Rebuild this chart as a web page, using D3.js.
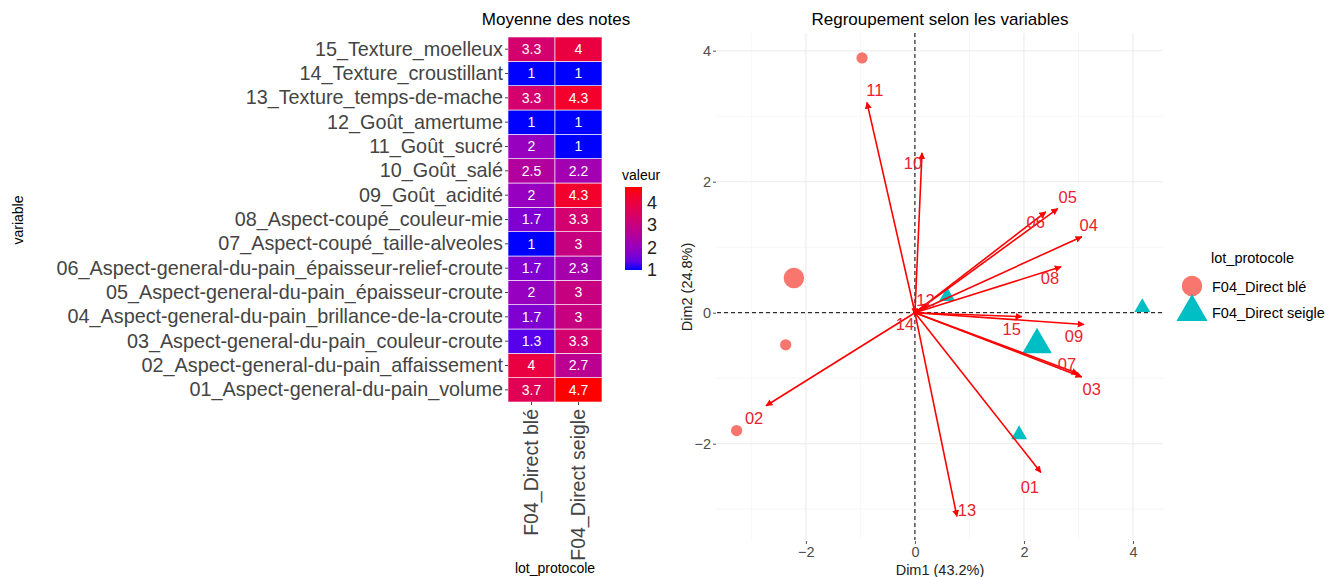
<!DOCTYPE html>
<html>
<head>
<meta charset="utf-8">
<script src="https://cdn.jsdelivr.net/npm/d3@7"></script>
<style>
  body { margin: 0; background: #fff; }
  svg { font-family: 'Liberation Sans', Arial, sans-serif; }
</style>
</head>
<body>
<div id="graph"></div>
<script>
// ---- heatmap data ----
const lots = ['F04_Direct blé', 'F04_Direct seigle'];
const variables = [
  '01_Aspect-general-du-pain_volume',
  '02_Aspect-general-du-pain_affaissement',
  '03_Aspect-general-du-pain_couleur-croute',
  '04_Aspect-general-du-pain_brillance-de-la-croute',
  '05_Aspect-general-du-pain_épaisseur-croute',
  '06_Aspect-general-du-pain_épaisseur-relief-croute',
  '07_Aspect-coupé_taille-alveoles',
  '08_Aspect-coupé_couleur-mie',
  '09_Goût_acidité',
  '10_Goût_salé',
  '11_Goût_sucré',
  '12_Goût_amertume',
  '13_Texture_temps-de-mache',
  '14_Texture_croustillant',
  '15_Texture_moelleux'
];
const valBle    = [3.7, 4, 1.3, 1.7, 2, 1.7, 1, 1.7, 2, 2.5, 2, 1, 3.3, 1, 3.3];
const valSeigle = [4.7, 2.7, 3.3, 3, 3, 2.3, 3, 3.3, 4.3, 2.2, 1, 1, 4.3, 1, 4];
const legendTicks = [1, 2, 3, 4];

// ---- PCA data ----
const varCodes = ['01','02','03','04','05','06','07','08','09','10','11','12','13','14','15'];
const varDim1 = [2.31, -2.73, 3.06, 3.06, 2.62, 2.40, 2.99, 2.68, 3.10, 0.13, -0.88, 0.25, 0.77, 0.0, 1.96];
const varDim2 = [-2.44, -1.42, -0.98, 1.16, 1.59, 1.54, -0.93, 0.70, -0.18, 2.44, 3.21, 0.14, -3.11, -0.03, -0.06];
const indLot  = ['F04_Direct blé', 'F04_Direct blé', 'F04_Direct blé', 'F04_Direct seigle', 'F04_Direct seigle', 'F04_Direct seigle'];
const indDim1 = [-0.97, -2.37, -3.27, 4.17, 1.91, 0.59];
const indDim2 = [3.89, -0.49, -1.80, 0.08, -1.86, 0.25];
const meanDim1 = [-2.22, 2.24];
const meanDim2 = [0.53, -0.49];
const pcaTicks = [-2, 0, 2, 4];
const pcaMinor = [-3, -1, 1, 3];

// label nudges for arrow labels (pixels)
const labelNudge = {
  '01': [-11, 15], '02': [-12, 13], '03': [10, 12], '04': [7, -11], '05': [10, -11],
  '06': [-10, 10], '07': [-11, -9], '08': [-11, 11], '09': [-10, 12], '10': [-9, 10],
  '11': [8, -12], '12': [-3, -3], '13': [10, -6], '14': [-10, 10], '15': [-10, 13]
};

const w = 1325, h = 577;
const svg = d3.select('#graph').append('svg')
  .attr('width', w).attr('height', h);
svg.append('rect').attr('width', w).attr('height', h).attr('fill', '#fff');

// ================= heatmap =================
const cells = [];
variables.forEach((v, i) => {
  cells.push({ variable: v, lot: lots[0], value: valBle[i] });
  cells.push({ variable: v, lot: lots[1], value: valSeigle[i] });
});

const xBand = d3.scaleBand().domain(lots).range([508, 602]);
const yBand = d3.scaleBand().domain(variables).range([402, 37]);
const color = d3.scaleLinear()
  .domain([1, 4.7])
  .range(['#0000ff', '#ff0000'])
  .interpolate(d3.interpolateLab);

svg.append('g').selectAll('rect')
  .data(cells).enter().append('rect')
  .attr('x', d => xBand(d.lot))
  .attr('y', d => yBand(d.variable))
  .attr('width', xBand.bandwidth())
  .attr('height', yBand.bandwidth())
  .attr('fill', d => color(d.value))
  .attr('stroke', '#fff')
  .attr('stroke-width', 0.6);

svg.append('g').selectAll('text')
  .data(cells).enter().append('text')
  .attr('x', d => xBand(d.lot) + xBand.bandwidth() / 2)
  .attr('y', d => yBand(d.variable) + yBand.bandwidth() / 2)
  .attr('dy', '0.35em')
  .attr('text-anchor', 'middle')
  .style('font-size', '14px')
  .style('fill', '#fff')
  .text(d => d.value);

const hmY = svg.append('g')
  .attr('transform', 'translate(508,0)')
  .call(d3.axisLeft(yBand).tickSize(3).tickPadding(2));
hmY.select('.domain').remove();
hmY.selectAll('line').attr('stroke', '#444');
hmY.selectAll('text').style('font-size', '19.8px').style('fill', '#444')
  .style('font-family', "'Liberation Sans', Arial, sans-serif");

const hmX = svg.append('g')
  .attr('transform', 'translate(0,402)')
  .call(d3.axisBottom(xBand).tickSize(3).tickPadding(2));
hmX.select('.domain').remove();
hmX.selectAll('line').attr('stroke', '#444');
hmX.selectAll('text')
  .style('font-size', '19.5px').style('fill', '#444')
  .style('font-family', "'Liberation Sans', Arial, sans-serif")
  .attr('transform', 'rotate(-90)')
  .attr('text-anchor', 'end')
  .attr('x', -7).attr('y', 0).attr('dy', '0.35em');

svg.append('text')
  .attr('x', 556).attr('y', 25)
  .attr('text-anchor', 'middle')
  .style('font-size', '17px')
  .text('Moyenne des notes');

svg.append('text')
  .attr('x', 555).attr('y', 573)
  .attr('text-anchor', 'middle')
  .style('font-size', '14px')
  .text('lot_protocole');

svg.append('text')
  .attr('transform', 'translate(23,220) rotate(-90)')
  .attr('text-anchor', 'middle')
  .style('font-size', '14px')
  .text('variable');

// colour bar legend
const legScale = d3.scaleLinear().domain([1, 4.7]).range([270, 187]);
const defs = svg.append('defs');
const grad = defs.append('linearGradient')
  .attr('id', 'valgrad')
  .attr('x1', 0).attr('y1', 1).attr('x2', 0).attr('y2', 0);
d3.range(0, 1.01, 0.1).forEach(t => {
  grad.append('stop')
    .attr('offset', t)
    .attr('stop-color', color(1 + t * 3.7));
});
svg.append('rect')
  .attr('x', 625).attr('y', legScale(4.7))
  .attr('width', 17).attr('height', legScale(1) - legScale(4.7))
  .attr('fill', 'url(#valgrad)');
svg.append('g').selectAll('text')
  .data(legendTicks).enter().append('text')
  .attr('x', 647).attr('y', d => legScale(d))
  .attr('dy', '0.35em')
  .style('font-size', '18px')
  .style('fill', '#222')
  .text(d => d);
svg.append('text')
  .attr('x', 622).attr('y', 180)
  .style('font-size', '14px')
  .text('valeur');

// ================= PCA biplot =================
const xScale = d3.scaleLinear().domain([-3.63, 4.55]).range([717, 1163]);
const yScale = d3.scaleLinear().domain([-3.47, 4.27]).range([540, 33]);

const grid = svg.append('g');
grid.selectAll('.vmin').data(pcaMinor).enter().append('line')
  .attr('x1', d => xScale(d)).attr('x2', d => xScale(d))
  .attr('y1', 33).attr('y2', 540)
  .attr('stroke', '#f2f2f2').attr('stroke-width', 0.6);
grid.selectAll('.hmin').data(pcaMinor).enter().append('line')
  .attr('y1', d => yScale(d)).attr('y2', d => yScale(d))
  .attr('x1', 717).attr('x2', 1163)
  .attr('stroke', '#f2f2f2').attr('stroke-width', 0.6);
grid.selectAll('.vmaj').data(pcaTicks).enter().append('line')
  .attr('x1', d => xScale(d)).attr('x2', d => xScale(d))
  .attr('y1', 33).attr('y2', 540)
  .attr('stroke', '#ebebeb').attr('stroke-width', 1.1);
grid.selectAll('.hmaj').data(pcaTicks).enter().append('line')
  .attr('y1', d => yScale(d)).attr('y2', d => yScale(d))
  .attr('x1', 717).attr('x2', 1163)
  .attr('stroke', '#ebebeb').attr('stroke-width', 1.1);

const pX = svg.append('g')
  .attr('transform', 'translate(0,541)')
  .call(d3.axisBottom(xScale).tickValues(pcaTicks).tickSize(3).tickPadding(3));
const pY = svg.append('g')
  .attr('transform', 'translate(716,0)')
  .call(d3.axisLeft(yScale).tickValues(pcaTicks).tickSize(3).tickPadding(2));
[pX, pY].forEach(a => {
  a.select('.domain').remove();
  a.selectAll('line').attr('stroke', '#555');
  a.selectAll('text').style('font-size', '14.5px').style('fill', '#4d4d4d')
    .style('font-family', "'Liberation Sans', Arial, sans-serif");
});

// dashed zero lines
svg.append('line')
  .attr('x1', xScale(0)).attr('x2', xScale(0)).attr('y1', 33).attr('y2', 540)
  .attr('stroke', '#000').attr('stroke-width', 1).attr('stroke-dasharray', '4,3');
svg.append('line')
  .attr('y1', yScale(0)).attr('y2', yScale(0)).attr('x1', 717).attr('x2', 1163)
  .attr('stroke', '#000').attr('stroke-width', 1).attr('stroke-dasharray', '4,3');

const lotColor = d3.scaleOrdinal().domain(lots).range(['#F8766D', '#00BFC4']);
const symbolFor = d => d === lots[0] ? d3.symbolCircle : d3.symbolTriangle;

// individuals
svg.append('g').selectAll('path')
  .data(indLot).enter().append('path')
  .attr('transform', (d, i) => `translate(${xScale(indDim1[i])},${yScale(indDim2[i])})`)
  .attr('d', d => d3.symbol().type(symbolFor(d)).size(d === lots[0] ? 100 : 110)())
  .attr('fill', d => lotColor(d));

// group mean points
svg.append('g').selectAll('path')
  .data(lots).enter().append('path')
  .attr('transform', (d, i) => `translate(${xScale(meanDim1[i])},${yScale(meanDim2[i])})`)
  .attr('d', d => d3.symbol().type(symbolFor(d)).size(d === lots[0] ? 330 : 380)())
  .attr('fill', d => lotColor(d));

// arrows
defs.append('marker')
  .attr('id', 'arrowhead')
  .attr('viewBox', '0 0 10 10')
  .attr('refX', 9).attr('refY', 5)
  .attr('markerWidth', 7).attr('markerHeight', 7)
  .attr('markerUnits', 'userSpaceOnUse')
  .attr('orient', 'auto')
  .append('path')
  .attr('d', 'M0,0 L10,5 L0,10 Z')
  .attr('fill', '#ff0000');

svg.append('g').selectAll('line')
  .data(varCodes).enter().append('line')
  .attr('x1', xScale(0)).attr('y1', yScale(0))
  .attr('x2', (d, i) => xScale(varDim1[i]))
  .attr('y2', (d, i) => yScale(varDim2[i]))
  .attr('stroke', '#ff0000')
  .attr('stroke-width', 1.6)
  .attr('marker-end', 'url(#arrowhead)');

svg.append('g').selectAll('text')
  .data(varCodes).enter().append('text')
  .attr('x', (d, i) => xScale(varDim1[i]) + labelNudge[d][0])
  .attr('y', (d, i) => yScale(varDim2[i]) + labelNudge[d][1])
  .attr('dy', '0.35em')
  .attr('text-anchor', 'middle')
  .style('font-size', '16.5px')
  .style('fill', '#e8232d')
  .text(d => d);

svg.append('text')
  .attr('x', 940).attr('y', 25)
  .attr('text-anchor', 'middle')
  .style('font-size', '17px')
  .text('Regroupement selon les variables');

svg.append('text')
  .attr('x', 940).attr('y', 575)
  .attr('text-anchor', 'middle')
  .style('font-size', '14.5px')
  .style('fill', '#222')
  .text('Dim1 (43.2%)');

svg.append('text')
  .attr('transform', 'translate(692,287) rotate(-90)')
  .attr('text-anchor', 'middle')
  .style('font-size', '14.5px')
  .style('fill', '#222')
  .text('Dim2 (24.8%)');

// legend
svg.append('text')
  .attr('x', 1211).attr('y', 263)
  .style('font-size', '14.5px')
  .text('lot_protocole');
const leg = svg.append('g').selectAll('g')
  .data(lots).enter().append('g')
  .attr('transform', (d, i) => `translate(1192,${286 + i * 26})`);
leg.append('path')
  .attr('d', d => d3.symbol().type(symbolFor(d)).size(d === lots[0] ? 330 : 420)())
  .attr('fill', d => lotColor(d));
leg.append('text')
  .attr('x', 20).attr('y', 1)
  .attr('dy', '0.35em')
  .style('font-size', '14.5px')
  .text(d => d);
</script>
</body>
</html>
